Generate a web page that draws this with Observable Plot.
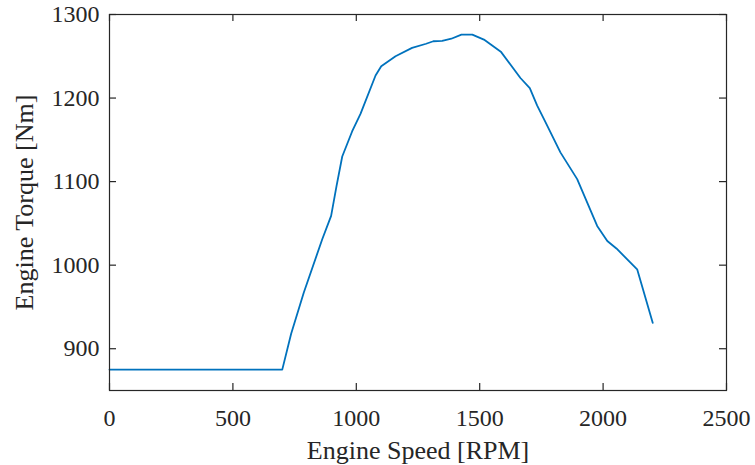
<!DOCTYPE html>
<html>
<head>
<meta charset="utf-8">
<script src="https://cdn.jsdelivr.net/npm/d3@7"></script>
<script src="https://cdn.jsdelivr.net/npm/@observablehq/plot@0.6"></script>
<style>
  html, body { margin: 0; padding: 0; background: #fff; }
</style>
</head>
<body>
<div id="chart"></div>
<script>
const speed = [0, 700, 736, 787, 862, 898, 920, 943, 983, 1017, 1078, 1101, 1159, 1226, 1283, 1312, 1348, 1385, 1426, 1470, 1517, 1587, 1665, 1703, 1733, 1767, 1827, 1895, 1976, 2017, 2054, 2138, 2201];
const torque = [875, 875, 918, 967, 1031, 1059, 1095, 1130, 1160, 1181, 1227, 1238, 1250, 1260, 1265, 1268, 1268.5, 1271, 1276, 1276, 1270, 1255, 1224, 1212, 1191, 1171, 1135, 1103, 1047, 1029, 1020, 995, 931];
const xTicks = [0, 500, 1000, 1500, 2000, 2500];
const yTicks = [900, 1000, 1100, 1200, 1300];
const xLabel = "Engine Speed [RPM]";
const yLabel = "Engine Torque [Nm]";

const data = speed.map((s, i) => ({speed: s, torque: torque[i]}));

const W = 755, H = 465;
const mL = 109, mR = 29, mT = 14, mB = 75;
const innerW = W - mL - mR, innerH = H - mT - mB;
const tk = 7;
const ink = "#262626";
const fmt = d3.format("d");

const chart = Plot.plot({
  width: W,
  height: H,
  marginLeft: mL,
  marginRight: mR,
  marginTop: mT,
  marginBottom: mB,
  style: {fontFamily: "'Liberation Serif', 'Times New Roman', serif", fontSize: "24px", color: ink, background: "#fff"},
  x: {domain: [0, 2500]},
  y: {domain: [850, 1300]},
  marks: [
    Plot.line(data, {x: "speed", y: "torque", stroke: "#0072BD", strokeWidth: 1.8}),
    Plot.frame({stroke: ink, strokeWidth: 1.2}),
    Plot.tickX(xTicks, {x: d => d, stroke: ink, strokeWidth: 1.2, insetTop: innerH - tk}),
    Plot.tickX(xTicks, {x: d => d, stroke: ink, strokeWidth: 1.2, insetBottom: innerH - tk}),
    Plot.tickY(yTicks, {y: d => d, stroke: ink, strokeWidth: 1.2, insetRight: innerW - tk}),
    Plot.tickY(yTicks, {y: d => d, stroke: ink, strokeWidth: 1.2, insetLeft: innerW - tk}),
    Plot.axisX(xTicks, {tickSize: 0, tickPadding: 18, tickFormat: fmt, label: null, fill: ink, fontSize: 24}),
    Plot.axisY(yTicks, {tickSize: 0, tickPadding: 10, tickFormat: fmt, label: null, fill: ink, fontSize: 24}),
    Plot.text([xLabel], {frameAnchor: "bottom", dy: 60, text: d => d, fill: ink, fontSize: 26, textAnchor: "middle", lineAnchor: "middle"}),
    Plot.text([yLabel], {frameAnchor: "left", dx: -85, rotate: -90, text: d => d, fill: ink, fontSize: 26, textAnchor: "middle", lineAnchor: "middle"})
  ]
});
document.getElementById("chart").appendChild(chart);
</script>
</body>
</html>
